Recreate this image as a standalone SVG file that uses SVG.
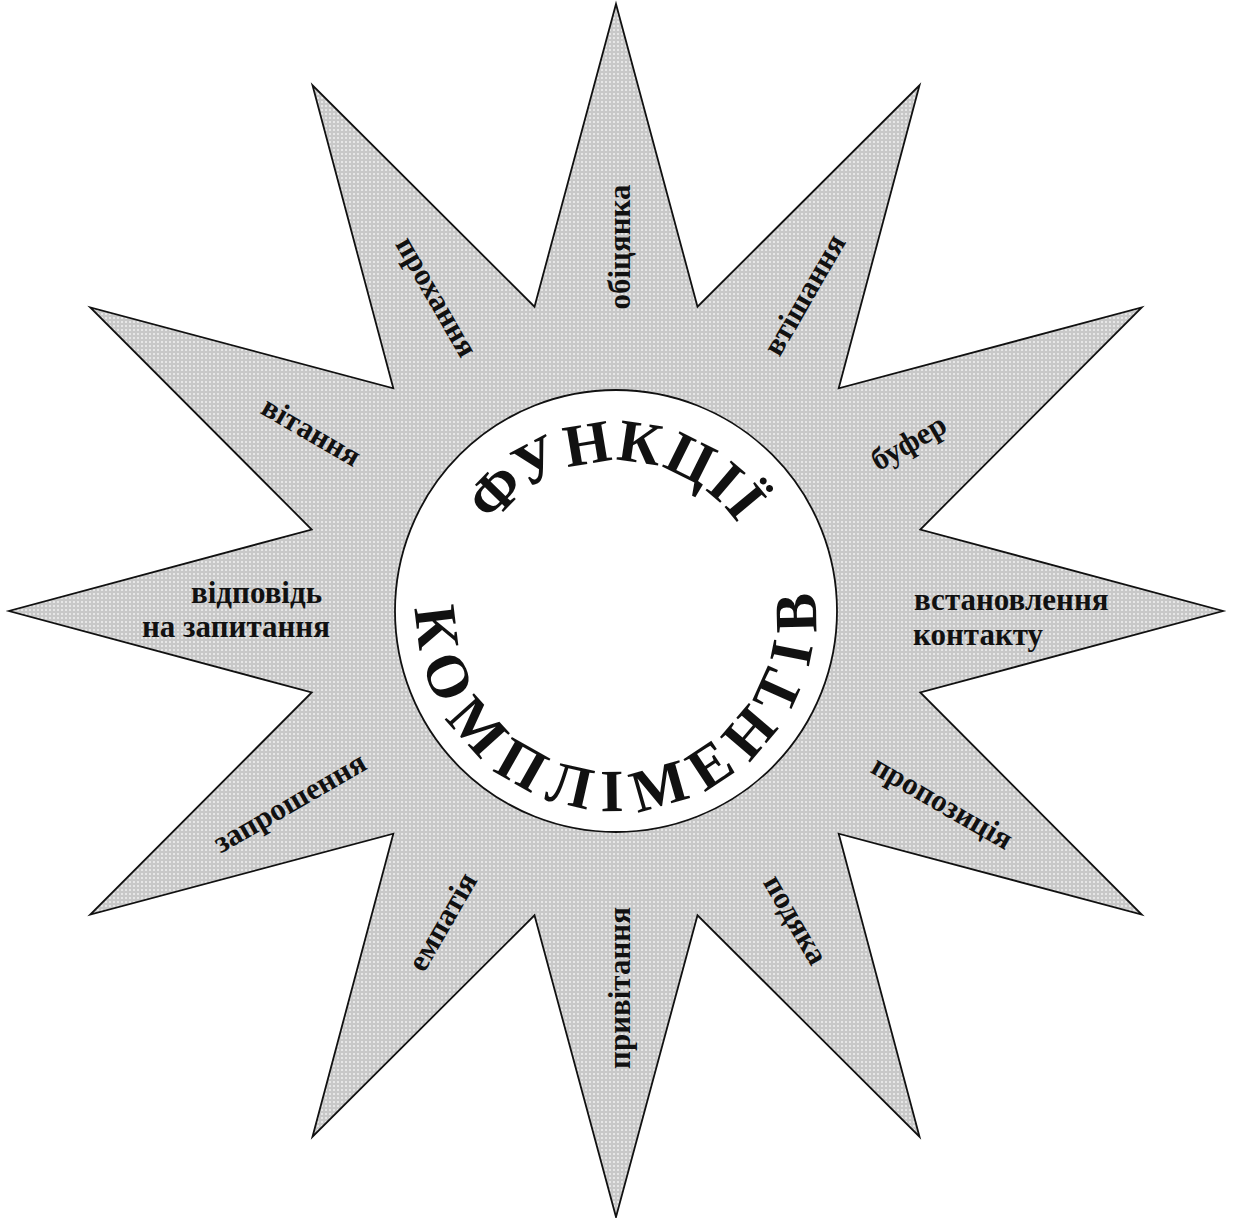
<svg xmlns="http://www.w3.org/2000/svg" width="1236" height="1218" viewBox="0 0 1236 1218">
<defs>
<pattern id="dots" width="4" height="4" patternUnits="userSpaceOnUse">
<rect width="4" height="4" fill="#c8c8c8"/>
<circle cx="2" cy="2" r="1" fill="#f0f0f0"/>
</pattern>
<path id="arcTop" d="M 466,611 A 150 150 0 0 1 766,611"/>
<path id="arcBottom" d="M 428.1,542.6 A 200 200 0 1 0 803.9,542.6"/>
</defs>
<style>
.lbl{font-family:"Liberation Serif","Times New Roman",serif;font-weight:bold;font-size:31px;fill:#111}
.big{font-family:"Liberation Serif","Times New Roman",serif;font-weight:bold;font-size:60px;fill:#111}
</style>
<rect width="1236" height="1218" fill="#ffffff"/>
<g id="star">
<polygon points="616,4 697.5,306.7 919.5,85.3 838.7,388.3 1141.7,307.5 920.3,529.5 1223,611 920.3,692.5 1141.7,914.5 838.7,833.7 919.5,1136.7 697.5,915.3 616,1217 534.5,915.3 312.5,1136.7 393.3,833.7 90.3,914.5 311.7,692.5 9,611 311.7,529.5 90.3,307.5 393.3,388.3 312.5,85.3 534.5,306.7" fill="url(#dots)" stroke="#111" stroke-width="1.8" stroke-linejoin="miter"/>
</g>
<g id="center">
<circle cx="616" cy="611" r="221" fill="#ffffff" stroke="#111" stroke-width="1.8"/>
<text class="big" letter-spacing="2"><textPath href="#arcTop" startOffset="50%" text-anchor="middle">ФУНКЦІЇ</textPath></text>
<text class="big" letter-spacing="13"><textPath href="#arcBottom" startOffset="398" text-anchor="middle">КОМПЛІМЕНТІВ</textPath></text>
</g>
<g id="labels">
<g id="n-obitsyanka" transform="translate(621,247) rotate(-90)"><text class="lbl" text-anchor="middle" dy="0.3em">обіцянка</text></g>
<g id="n-vtishannya" transform="translate(805,295) rotate(-60)"><text class="lbl" text-anchor="middle" dy="0.3em">втішання</text></g>
<g id="n-bufer" transform="translate(909,443) rotate(-30)"><text class="lbl" text-anchor="middle" dy="0.3em">буфер</text></g>
<g id="n-vstanovlennya"><text class="lbl" x="914" y="610">встановлення</text><text class="lbl" x="913" y="645">контакту</text></g>
<g id="n-propozytsiya" transform="translate(942,803) rotate(30)"><text class="lbl" text-anchor="middle" dy="0.3em">пропозиція</text></g>
<g id="n-podyaka" transform="translate(795,920) rotate(60)"><text class="lbl" text-anchor="middle" dy="0.3em">подяка</text></g>
<g id="n-pryvitannya" transform="translate(621,988) rotate(-90)"><text class="lbl" text-anchor="middle" dy="0.3em">привітання</text></g>
<g id="n-empatiya" transform="translate(443,922) rotate(-60)"><text class="lbl" text-anchor="middle" dy="0.3em">емпатія</text></g>
<g id="n-zaproshennya" transform="translate(290,803) rotate(-30)"><text class="lbl" text-anchor="middle" dy="0.3em">запрошення</text></g>
<g id="n-vidpovid"><text class="lbl" x="191" y="603">відповідь</text><text class="lbl" x="142" y="637">на запитання</text></g>
<g id="n-vitannya" transform="translate(311,432) rotate(30)"><text class="lbl" text-anchor="middle" dy="0.3em">вітання</text></g>
<g id="n-prohannya" transform="translate(436,297) rotate(60)"><text class="lbl" text-anchor="middle" dy="0.3em">прохання</text></g>
</g>
<g id="connectors"></g>
</svg>
